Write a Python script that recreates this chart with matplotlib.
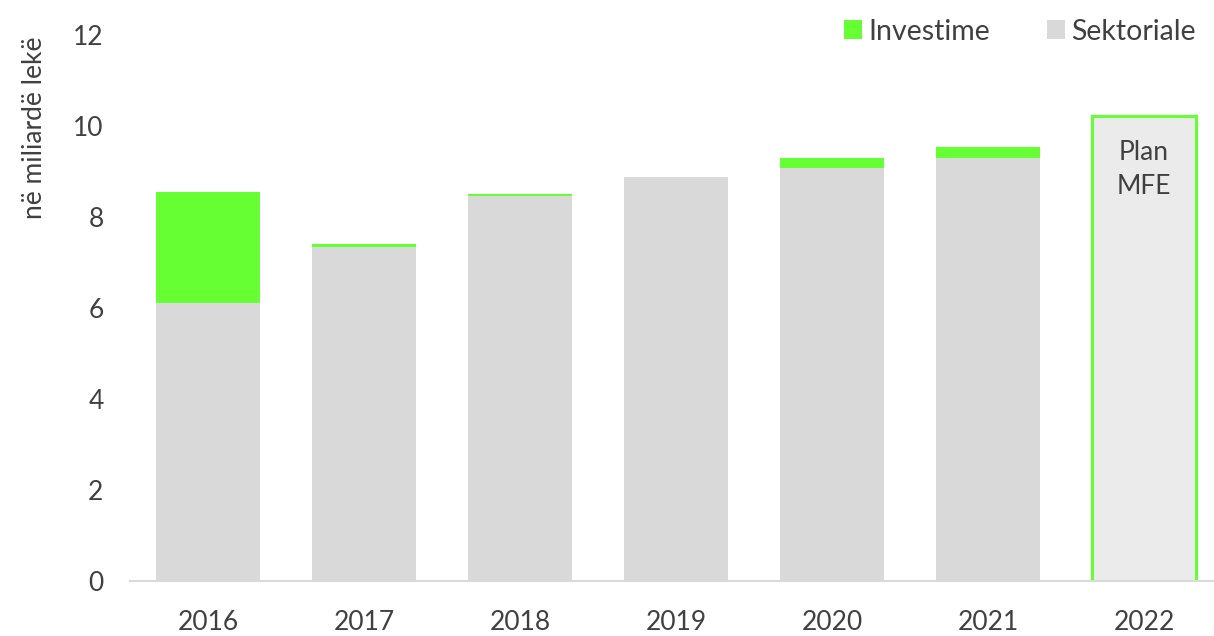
import matplotlib
matplotlib.use("Agg")
import matplotlib.pyplot as plt
from matplotlib.patches import Patch

plt.rcParams['font.family'] = ['Lato', 'DejaVu Sans']

years = ["2016", "2017", "2018", "2019", "2020", "2021", "2022"]
sektoriale = [6.11, 7.34, 8.46, 8.88, 9.08, 9.30, 0.0]
investime = [2.44, 0.07, 0.05, 0.0, 0.22, 0.24, 0.0]
plan_value = 10.22
plan_label = "Plan\nMFE"
y_ticks = [0, 2, 4, 6, 8, 10, 12]

green = "#66FF33"
gray = "#D9D9D9"
text_col = "#404040"
fs = 19

fig = plt.figure(figsize=(12.14, 6.36), dpi=100)
ax = fig.add_axes([130 / 1214, 1 - 581 / 636, 1 - 130 / 1214, (581 - 35) / 636])

x = list(range(len(years)))
w = 0.667
ax.bar(x[:-1], sektoriale[:-1], width=w, color=gray, zorder=2)
ax.bar(x[:-1], investime[:-1], width=w, bottom=sektoriale[:-1], color=green, zorder=2)
ax.bar(x[-1], plan_value, width=w, color="#EBEBEB", edgecolor=green, linewidth=2.2, zorder=2)
ax.text(x[-1], plan_value - 0.52, plan_label, ha="center", va="top", fontsize=fs,
        color=text_col, linespacing=1.45)

ax.set_ylim(0, 12)
ax.set_xlim(-0.5, 6.5 - 8 / 156)
ax.set_yticks(y_ticks)
ax.set_xticks(x)
ax.set_xticklabels(years)
ax.tick_params(axis="both", length=0, labelsize=fs, labelcolor=text_col)
ax.tick_params(axis="x", pad=21)
ax.tick_params(axis="y", pad=19)
for s in ["top", "right", "left"]:
    ax.spines[s].set_visible(False)
ax.spines["bottom"].set_color(gray)
ax.spines["bottom"].set_linewidth(1.5)
ax.spines["bottom"].set_zorder(3)

fig.text(35 / 1214, 1 - 128 / 636, "në miliardë lekë", rotation=90, ha="center", va="center",
         fontsize=fs, color=text_col)

handles = [Patch(facecolor=green, label="Investime"), Patch(facecolor=gray, label="Sektoriale")]
fig.legend(handles=handles, loc="upper right", bbox_to_anchor=(1.0, 1.0), ncol=2, frameon=False,
           fontsize=20.5, labelcolor=text_col, handlelength=0.65, handleheight=0.65,
           handletextpad=0.2, columnspacing=2.0, borderaxespad=0.25)

fig.savefig("out.png", dpi=100)
